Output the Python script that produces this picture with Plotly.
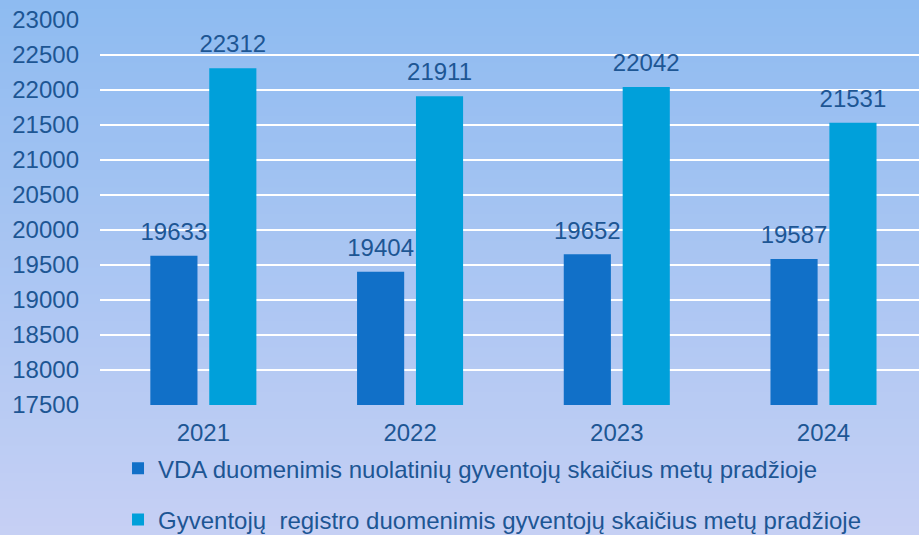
import plotly.graph_objects as go

years = ["2021", "2022", "2023", "2024"]
vda_values = [19633, 19404, 19652, 19587]
registry_values = [22312, 21911, 22042, 21531]
series_names = [
    "VDA duomenimis nuolatinių gyventojų skaičius metų pradžioje",
    "Gyventojų  registro duomenimis gyventojų skaičius metų pradžioje",
]
y_ticks = list(range(17500, 23001, 500))

W, H = 919, 535
ML, MR, MT, MB = 100, 0, 20, 130
TXT = "#1D5694"
FONT = "Liberation Sans, Arial, sans-serif"
FS = 24
GAP = 0.43

fig = go.Figure()
for vals, name, col, grp in [
    (vda_values, series_names[0], "#1170C8", "a"),
    (registry_values, series_names[1], "#00A0DA", "b"),
]:
    fig.add_trace(go.Bar(
        x=years, y=vals, name=name,
        marker=dict(color=col, line=dict(width=0)),
        offsetgroup=grp, alignmentgroup="g", legendgroup=grp,
        hoverinfo="x+y",
    ))
for vals, grp in [(vda_values, "a"), (registry_values, "b")]:
    fig.add_trace(go.Scatter(
        x=years, y=vals, mode="markers+text",
        text=[str(v) for v in vals], textposition="top center",
        textfont=dict(color=TXT, size=FS, family=FONT),
        marker=dict(size=14, opacity=0),
        offsetgroup=grp, alignmentgroup="g", legendgroup=grp,
        showlegend=False, hoverinfo="skip", cliponaxis=False,
    ))

# gradient background via stacked rectangles (paper coords extended over margins)
c0 = (142, 187, 241)
c1 = (198, 208, 244)
n = 60
plot_h = H - MT - MB
plot_w = W - ML - MR
shapes = []
for i in range(n):
    t = (i + 0.5) / n
    col = tuple(round(c0[k] + (c1[k] - c0[k]) * t) for k in range(3))
    top_px = H * i / n
    bot_px = H * (i + 1) / n + 1
    y1 = (H - MB - top_px) / plot_h
    y0 = (H - MB - bot_px) / plot_h
    shapes.append(dict(
        type="rect", xref="paper", yref="paper",
        x0=-ML / plot_w - 0.01, x1=1 + 0.01, y0=y0, y1=y1,
        fillcolor="rgb(%d,%d,%d)" % col, line=dict(width=0), layer="below",
    ))

fig.update_layout(
    width=W, height=H,
    margin=dict(l=ML, r=MR, t=MT, b=MB, autoexpand=False),
    paper_bgcolor="rgb(170,198,243)",
    plot_bgcolor="rgba(0,0,0,0)",
    shapes=shapes,
    barmode="group", bargap=GAP, bargroupgap=0.2,
    scattermode="group", scattergap=GAP,
    font=dict(family=FONT, color=TXT, size=FS),
    xaxis=dict(showgrid=False, showline=False, ticks="", tickfont=dict(size=FS, color=TXT),
               ticklabelstandoff=11, range=[-0.5, 3.462]),
    yaxis=dict(range=[17500, 23000], tickvals=y_ticks, ticktext=[str(v) for v in y_ticks],
               showgrid=True, gridcolor="white",
               gridwidth=2, zeroline=False, showline=False, ticks="",
               tickfont=dict(size=FS, color=TXT), ticklabelstandoff=20),
    legend=dict(orientation="v", x=0.022, xanchor="left", y=-0.107, yanchor="top",
                font=dict(size=FS, color=TXT), bgcolor="rgba(0,0,0,0)",
                tracegroupgap=17, itemwidth=30),
    showlegend=True,
)

fig.write_html("out.html", config={"displayModeBar": False},
               post_script="document.body.style.margin='0';document.body.style.overflow='hidden';")
